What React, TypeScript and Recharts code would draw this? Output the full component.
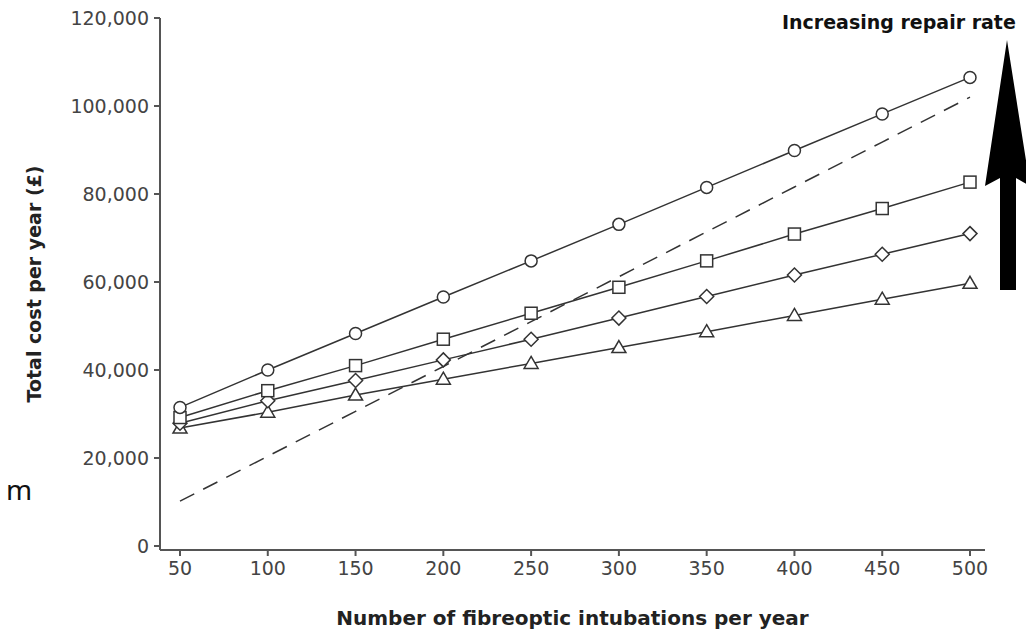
import React from "react";
import { LineChart, Line, XAxis, YAxis } from "recharts";

const intubations = [50, 100, 150, 200, 250, 300, 350, 400, 450, 500];
const circleSeries = [31500, 40000, 48300, 56600, 64800, 73100, 81500, 89900, 98200, 106500];
const squareSeries = [29200, 35300, 41000, 47000, 52900, 58800, 64800, 70900, 76700, 82700];
const diamondSeries = [27900, 33000, 37600, 42300, 47000, 51800, 56700, 61600, 66300, 71000];
const triangleSeries = [26800, 30400, 34300, 37900, 41500, 45100, 48700, 52400, 56100, 59700];
const dashedSeries = [10200, 20400, 30600, 40800, 51000, 61200, 71400, 81600, 91800, 102000];
const yTicks = [0, 20000, 40000, 60000, 80000, 100000, 120000];

const data = intubations.map((n, i) => ({
  n,
  circle: circleSeries[i],
  square: squareSeries[i],
  diamond: diamondSeries[i],
  triangle: triangleSeries[i],
  dashed: dashedSeries[i],
}));

const INK = "#333";

const CircleDot = (p: any) => (
  <circle key={p.index} cx={p.cx} cy={p.cy} r={6} fill="#fff" stroke={INK} strokeWidth={1.5} />
);
const SquareDot = (p: any) => (
  <rect key={p.index} x={p.cx - 6} y={p.cy - 6} width={12} height={12} fill="#fff" stroke={INK} strokeWidth={1.5} />
);
const DiamondDot = (p: any) => (
  <polygon
    key={p.index}
    points={`${p.cx},${p.cy - 7} ${p.cx + 7},${p.cy} ${p.cx},${p.cy + 7} ${p.cx - 7},${p.cy}`}
    fill="#fff"
    stroke={INK}
    strokeWidth={1.5}
  />
);
const TriangleDot = (p: any) => (
  <polygon
    key={p.index}
    points={`${p.cx},${p.cy - 7} ${p.cx + 7},${p.cy + 5} ${p.cx - 7},${p.cy + 5}`}
    fill="#fff"
    stroke={INK}
    strokeWidth={1.5}
  />
);

const fmt = (v: number) => v.toLocaleString("en-US");
const FONT = "DejaVu Sans, Verdana, sans-serif";

export default function App() {
  return (
    <div style={{ position: "absolute", left: 0, top: 0, width: 1026, height: 635, background: "#fff", fontFamily: FONT }}>
      <LineChart
        width={1026}
        height={635}
        data={data}
        margin={{ top: 18, right: 41, bottom: 0, left: 0 }}
      >
        <XAxis
          dataKey="n"
          type="number"
          domain={[50, 500]}
          ticks={intubations}
          padding={{ left: 20, right: 15 }}
          stroke="#555"
          strokeWidth={2}
          tick={{ fill: "#444", fontSize: 19, fontFamily: FONT }}
          tickSize={6}
          tickMargin={6}
          height={85}
          label={{
            value: "Number of fibreoptic intubations per year",
            position: "insideBottom",
            offset: 10,
            style: { fill: "#222", fontSize: 20, fontWeight: "bold", fontFamily: FONT },
          }}
        />
        <YAxis
          domain={[0, 120000]}
          ticks={yTicks}
          tickFormatter={fmt}
          padding={{ bottom: 4 }}
          width={160}
          stroke="#555"
          strokeWidth={2}
          tick={{ fill: "#444", fontSize: 19, fontFamily: FONT }}
          tickSize={6}
          tickMargin={5}
          label={{
            value: "Total cost per year (\u00a3)",
            angle: -90,
            position: "insideLeft",
            offset: 34,
            style: { fill: "#222", fontSize: 19, fontWeight: "bold", fontFamily: FONT, textAnchor: "middle" },
          }}
        />
        <Line dataKey="dashed" stroke={INK} strokeWidth={1.5} strokeDasharray="16 10" dot={false} isAnimationActive={false} />
        <Line dataKey="triangle" stroke={INK} strokeWidth={1.5} dot={TriangleDot} isAnimationActive={false} />
        <Line dataKey="diamond" stroke={INK} strokeWidth={1.5} dot={DiamondDot} isAnimationActive={false} />
        <Line dataKey="square" stroke={INK} strokeWidth={1.5} dot={SquareDot} isAnimationActive={false} />
        <Line dataKey="circle" stroke={INK} strokeWidth={1.5} dot={CircleDot} isAnimationActive={false} />
      </LineChart>
      <svg width={1026} height={635} style={{ position: "absolute", left: 0, top: 0, pointerEvents: "none" }}>
        <text x={782} y={29} fontSize={19} fontWeight="bold" fill="#111" fontFamily={FONT}>
          Increasing repair rate
        </text>
        <polygon points="1007,40 985,186 1000,178 1000,290 1016,290 1016,178 1030,186" fill="#000" />
        <text x={6} y={500} fontSize={28} fill="#111" fontFamily="Noto Sans, sans-serif">
          m
        </text>
      </svg>
    </div>
  );
}
